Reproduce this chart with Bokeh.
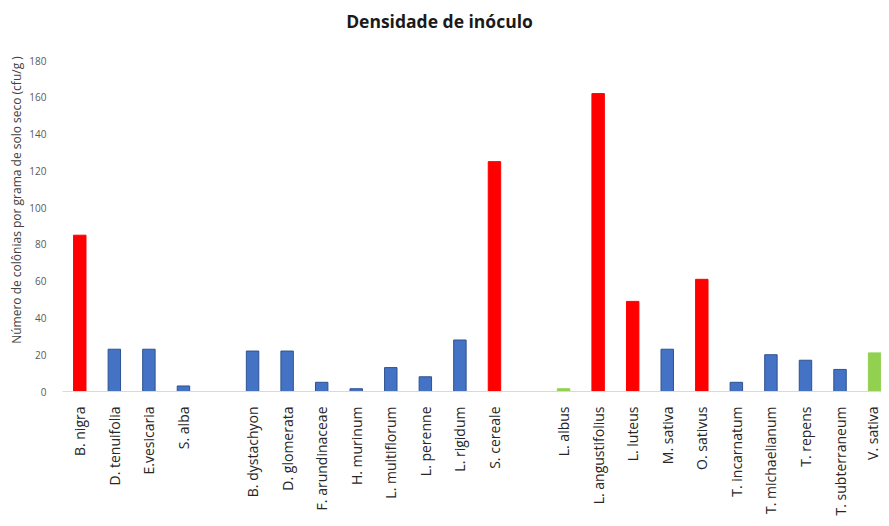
import math
from bokeh.plotting import figure
from bokeh.models import ColumnDataSource, FixedTicker, Label
from bokeh.embed import file_html
from bokeh.resources import INLINE

group1 = ["B. nigra", "D. tenuifolia", "E.vesicaria", "S. alba"]
group2 = ["B. dystachyon", "D. glomerata", "F. arundinaceae", "H. murinum",
          "L. multiflorum", "L. perenne", "L. rigidum", "S. cereale"]
group3 = ["L. albus", "L. angustifolius", "L. luteus", "M. sativa", "O. sativus",
          "T. incarnatum", "T. michaelianum", "T. repens", "T. subterraneum", "V. sativa"]

values1 = [85, 23, 23, 3]
values2 = [22, 22, 5, 1.5, 13, 8, 28, 125]
values3 = [1.5, 162, 49, 23, 61, 5, 20, 17, 12, 21]

# colour class per bar: r = red, b = blue, g = green
class1 = ["r", "b", "b", "b"]
class2 = ["b", "b", "b", "b", "b", "b", "b", "r"]
class3 = ["g", "r", "r", "b", "r", "b", "b", "b", "b", "g"]

y_ticks = [0, 20, 40, 60, 80, 100, 120, 140, 160, 180]

fill_map = {"r": "#ff0000", "b": "#4472c4", "g": "#92d050"}
line_map = {"r": "#ff0000", "b": "#2f528f", "g": "#92d050"}

names, vals, classes, xs = [], [], [], []
pos = 0
for g_names, g_vals, g_cls in [(group1, values1, class1), (group2, values2, class2), (group3, values3, class3)]:
    for n, v, c in zip(g_names, g_vals, g_cls):
        names.append(n)
        vals.append(v)
        classes.append(c)
        xs.append(pos)
        pos += 1
    pos += 1  # gap between groups

src = ColumnDataSource(dict(
    x=xs, top=vals, name=names,
    fill=[fill_map[c] for c in classes],
    line=[line_map[c] for c in classes],
))

# layout geometry (pixels)
W, H = 881, 518
border_top, border_bottom, border_left = 8, 127, 62
axis_px = 331                      # pixel height of the 0..180 axis span
frame_h = H - border_top - border_bottom
y_max = y_ticks[-1]
y_end = y_max * frame_h / axis_px  # extra headroom above 180 holds the title

p = figure(width=W, height=H, output_backend="svg", toolbar_location=None,
           x_range=(-0.5, xs[-1] + 0.2), y_range=(0, y_end),
           min_border_left=border_left, min_border_right=0,
           min_border_top=border_top, min_border_bottom=border_bottom)
p.outline_line_color = None
p.xgrid.grid_line_color = None
p.ygrid.grid_line_color = None

p.vbar(x="x", top="top", width=0.36, bottom=0, source=src,
       fill_color="fill", line_color="line", line_width=1)

title = Label(text="Densidade de inóculo", x=377, y=axis_px + 40,
              x_units="screen", y_units="screen",
              text_align="center", text_baseline="middle",
              text_font="Open Sans", text_font_size="17.5px", text_font_style="bold",
              text_color="#1a1a1a")
p.add_layout(title)

# x axis
p.xaxis.ticker = FixedTicker(ticks=xs)
p.xaxis.major_label_overrides = {x: n for x, n in zip(xs, names)}
p.xaxis.major_label_orientation = math.pi / 2
p.xaxis.major_tick_line_color = None
p.xaxis.minor_tick_line_color = None
p.xaxis.axis_line_color = "#d9d9d9"
p.xaxis.axis_line_width = 1
p.xaxis.major_label_text_font = "Open Sans"
p.xaxis.major_label_text_font_size = "14px"
p.xaxis.major_label_text_color = "#262626"
p.xaxis.major_label_standoff = 9

# y axis
p.yaxis.ticker = FixedTicker(ticks=y_ticks)
p.yaxis.axis_line_color = None
p.yaxis.major_tick_line_color = None
p.yaxis.minor_tick_line_color = None
p.yaxis.major_label_text_font = "Open Sans"
p.yaxis.major_label_text_font_size = "10px"
p.yaxis.major_label_text_color = "#595959"
p.yaxis.major_label_standoff = 10
p.yaxis.axis_label = "Número de colônias por grama de solo seco (cfu/g )"
p.yaxis.axis_label_text_font = "Open Sans"
p.yaxis.axis_label_text_font_size = "12px"
p.yaxis.axis_label_text_font_style = "normal"
p.yaxis.axis_label_text_color = "#404040"
p.yaxis.axis_label_standoff = 1

open("out.html", "w").write(file_html(p, INLINE))
